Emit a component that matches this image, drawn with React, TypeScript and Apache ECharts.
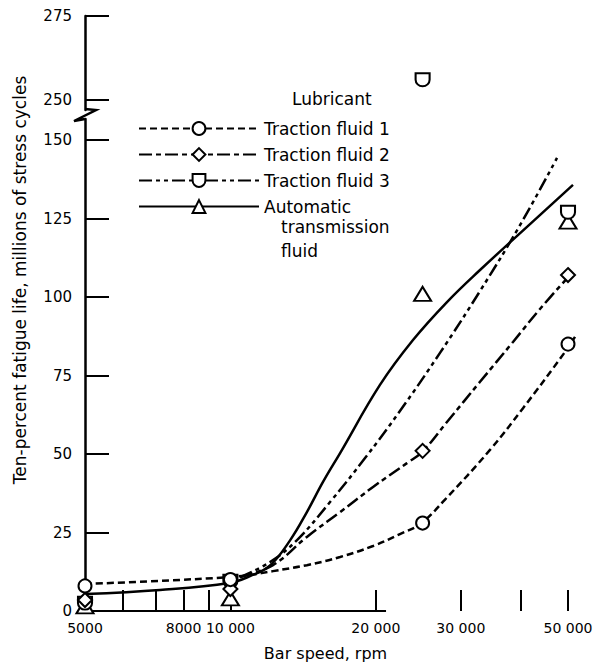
import React, { useEffect, useRef } from 'react';
import * as echarts from 'echarts';

const FONT = "'DejaVu Sans', 'Liberation Sans', sans-serif";

// Lubricant names
const TF1 = 'Traction fluid 1';
const TF2 = 'Traction fluid 2';
const TF3 = 'Traction fluid 3';
const ATF = 'Automatic transmission fluid';

// Bar speeds (rpm) at which fatigue life was measured
const testSpeeds = [5000, 10000, 25000, 50000];

// Ten-percent fatigue life, millions of stress cycles
const tf1Life = [8, 10, 28, 85];
const tf2Life = [3.5, 7, 51, 107];
const tf3Life = [2.5, 9.5, 256, 127];
const atfLife = [1.5, 4, 101, 124];

// Faired curves through the data, [bar speed, life]
const tf1Curve = [
  [5000, 8.6], [7150, 9.6], [9940, 10.8], [10980, 11.5], [12250, 12.7], [14400, 14.6],
  [16870, 17.2], [19740, 20.7], [22440, 24.5], [24810, 27.9], [27820, 35.5],
  [34470, 51.3], [40350, 64.6], [49290, 82.5], [51700, 87.3],
];
const tf2Curve = [
  [10470, 10.8], [12250, 14.6], [14400, 23.6], [16870, 31.5], [19740, 39.5],
  [23200, 47.1], [24930, 50.6], [28080, 60.2], [32870, 73], [38470, 85.7],
  [43750, 96.2], [50480, 107],
];
const tf3Curve = [
  [10470, 10.8], [12080, 15.6], [13740, 22.6], [16080, 34.7], [19000, 48.7],
  [22440, 63.7], [27160, 82.2], [32870, 101.9], [39780, 122.9], [47450, 144.3],
];
const atfCurve = [
  [5000, 5.4], [7150, 6.7], [9940, 8.9], [10980, 11.1], [12080, 14.5], [13290, 22.5],
  [14400, 31.5], [15550, 41.1], [16870, 50.3], [20400, 72], [23880, 86.3],
  [28080, 98.4], [32870, 108.6], [41720, 123.2], [51200, 135.7],
];

// Axis ticks and labels
const xTickValues = [5000, 6000, 7000, 8000, 9000, 10000, 20000, 30000, 40000, 50000];
const xLabelValues = [5000, 8000, 10000, 20000, 30000, 50000];
const lowerTickValues = [25, 50, 75, 100, 125, 150];
const lowerLabelValues = [0, 25, 50, 75, 100, 125, 150];
const upperTickValues = [250, 275];

// Broken ordinate: lower and upper segments
const LOWER_MIN = 0;
const LOWER_MAX = 156.7;
const UPPER_MIN = 247;
const UPPER_MAX = 275;
const X_MIN = 5000;
const X_MAX = 55000;

// Drawn part of the abscissa line
const baseline = [[5000, 0], [21000, 0]];

const D_SHAPE = 'path://M0,0H10V5A5,5,0,0,1,0,5Z';

const lubricants = [
  { name: TF1, life: tf1Life, curve: tf1Curve, symbol: 'circle', size: [13, 13], dash: [7, 4] as any },
  { name: TF2, life: tf2Life, curve: tf2Curve, symbol: 'diamond', size: [14, 14], dash: [13, 4, 5, 4] as any },
  { name: TF3, life: tf3Life, curve: tf3Curve, symbol: D_SHAPE, size: [14, 13], dash: [13, 4, 4, 4, 4, 4] as any },
  { name: ATF, life: atfLife, curve: atfCurve, symbol: 'triangle', size: [17, 14], dash: 'solid' as any },
];

const fmtSpeed = (v: number) => {
  const n = Math.round(v);
  if (n >= 10000) {
    const s = String(n);
    return s.slice(0, s.length - 3) + ' ' + s.slice(s.length - 3);
  }
  return String(n);
};

const markerStyle = { color: '#fff', borderColor: '#000', borderWidth: 2, opacity: 1 };

export default function App() {
  const ref = useRef<HTMLDivElement>(null);

  useEffect(() => {
    if (!ref.current) return;
    const chart = echarts.init(ref.current, null, { renderer: 'svg' });

    const curveSeries = lubricants.map((l, i) => ({
      name: l.name,
      type: 'line',
      xAxisIndex: 0,
      yAxisIndex: 0,
      data: l.curve,
      smooth: 0.4,
      showSymbol: false,
      symbol: l.symbol,
      symbolSize: l.size,
      itemStyle: markerStyle,
      lineStyle: { color: '#000', width: 2.5, type: l.dash },
      z: 2 + i * 0.01,
      silent: true,
    }));

    const pointsFor = (keep: (v: number) => boolean, xi: number) =>
      lubricants.map((l, i) => ({
        name: l.name + (xi === 0 ? ' (tests)' : ' (tests, upper)'),
        type: 'scatter',
        xAxisIndex: xi,
        yAxisIndex: xi,
        data: testSpeeds.map((s, k) => [s, l.life[k]]).filter((p) => keep(p[1])),
        symbol: l.symbol,
        symbolSize: l.size,
        itemStyle: markerStyle,
        z: 5 - i * 0.1,
        silent: true,
      }));

    const option: any = {
      animation: false,
      backgroundColor: '#fff',
      textStyle: { fontFamily: FONT, color: '#000' },
      title: {
        text: 'Lubricant',
        left: 292,
        top: 90,
        padding: 0,
        textStyle: { fontFamily: FONT, fontSize: 17, fontWeight: 'normal', color: '#000' },
      },
      legend: {
        orient: 'vertical',
        left: 138,
        top: 120,
        padding: 0,
        itemWidth: 120,
        itemHeight: 16,
        itemGap: 9,
        selectedMode: false,
        data: [TF1, TF2, TF3, ATF],
        formatter: (n: string) => (n === ATF ? 'Automatic' : n),
        textStyle: { fontFamily: FONT, fontSize: 17, lineHeight: 16, color: '#000' },
      },
      grid: [
        { left: 85, right: 8, top: 119, bottom: 52, outerBoundsMode: 'none', containLabel: false },
        { left: 85, right: 8, top: 16, height: 94, outerBoundsMode: 'none', containLabel: false },
      ],
      xAxis: [
        {
          type: 'log',
          logBase: 10,
          gridIndex: 0,
          min: X_MIN,
          max: X_MAX,
          axisLine: { show: false },
          axisTick: {
            show: true,
            inside: true,
            length: 21,
            customValues: xTickValues,
            lineStyle: { color: '#000', width: 2 },
          },
          minorTick: { show: false },
          splitLine: { show: false },
          axisLabel: {
            customValues: xLabelValues,
            formatter: fmtSpeed,
            fontFamily: FONT,
            fontSize: 14,
            color: '#000',
            margin: 10,
          },
          name: 'Bar speed, rpm',
          nameLocation: 'middle',
          nameGap: 34,
          nameTextStyle: { fontFamily: FONT, fontSize: 16, color: '#000', padding: [0, 22, 0, 0] },
        },
        {
          type: 'log',
          logBase: 10,
          gridIndex: 1,
          min: X_MIN,
          max: X_MAX,
          show: false,
        },
      ],
      yAxis: [
        {
          type: 'value',
          gridIndex: 0,
          min: LOWER_MIN,
          max: LOWER_MAX,
          axisLine: { show: true, onZero: false, lineStyle: { color: '#000', width: 2.5 } },
          axisTick: {
            show: true,
            inside: true,
            length: 24,
            customValues: lowerTickValues,
            lineStyle: { color: '#000', width: 2 },
          },
          axisLabel: {
            customValues: lowerLabelValues,
            fontFamily: FONT,
            fontSize: 15,
            color: '#000',
            margin: 13,
          },
          splitLine: { show: false },
        },
        {
          type: 'value',
          gridIndex: 1,
          min: UPPER_MIN,
          max: UPPER_MAX,
          axisLine: { show: true, onZero: false, lineStyle: { color: '#000', width: 2.5 } },
          axisTick: {
            show: true,
            inside: true,
            length: 24,
            customValues: upperTickValues,
            lineStyle: { color: '#000', width: 2 },
          },
          axisLabel: {
            customValues: upperTickValues,
            fontFamily: FONT,
            fontSize: 15,
            color: '#000',
            margin: 13,
          },
          splitLine: { show: false },
        },
      ],
      graphic: [
        {
          type: 'text',
          left: 281,
          top: 215,
          silent: true,
          style: {
            text: 'transmission\nfluid',
            fontFamily: FONT,
            fontSize: 17,
            lineHeight: 24,
            fill: '#000',
          },
        },
        {
          type: 'text',
          x: 20,
          y: 280,
          rotation: Math.PI / 2,
          silent: true,
          style: {
            text: 'Ten-percent fatigue life, millions of stress cycles',
            fontFamily: FONT,
            fontSize: 17,
            fill: '#000',
            align: 'center',
            verticalAlign: 'middle',
            textAlign: 'center',
            textVerticalAlign: 'middle',
          },
        },
        {
          type: 'polyline',
          silent: true,
          shape: { points: [[85, 109], [96, 110], [74, 121], [85, 119]] },
          style: { stroke: '#000', lineWidth: 2.5, fill: null },
        },
      ],
      series: [
        ...curveSeries,
        {
          name: 'axis base',
          type: 'line',
          xAxisIndex: 0,
          yAxisIndex: 0,
          data: baseline,
          showSymbol: false,
          symbol: 'none',
          clip: false,
          silent: true,
          lineStyle: { color: '#000', width: 2 },
        },
        ...pointsFor((v) => v <= LOWER_MAX, 0),
        ...pointsFor((v) => v >= UPPER_MIN, 1),
      ],
    };

    chart.setOption(option);
    return () => chart.dispose();
  }, []);

  return (
    <div
      ref={ref}
      style={{ position: 'fixed', left: 0, top: 0, width: 596, height: 663, background: '#fff' }}
    />
  );
}
